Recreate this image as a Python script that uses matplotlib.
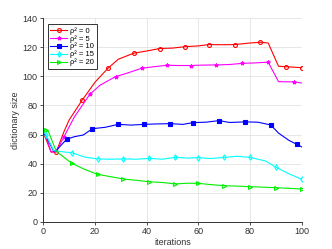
import matplotlib.pyplot as plt
import numpy as np

plt.rcParams['font.family'] = ['Liberation Sans', 'DejaVu Sans']

# rho^2 = 0
x0 = [0, 1, 3, 5, 8, 10, 15, 20, 25, 29, 35, 40, 45, 50, 55, 60, 64, 70, 74, 80, 84, 87, 91, 94, 100]
y0 = [61, 57, 48, 48, 62, 70, 83.6, 96, 105.6, 111.8, 116, 117.5, 119.2, 119.5, 120.5, 121, 121.9, 121.8, 121.9, 123, 123.5, 123, 107, 106.7, 106]
m0 = [5, 15, 25, 35, 45, 55, 64, 74, 84, 94, 100]

# rho^2 = 5
x5 = [0, 1, 3, 5, 8, 12, 18, 22, 28, 32, 38, 42, 48, 52, 57, 62, 67, 72, 77, 82, 87, 91, 97, 100]
y5 = [61, 59, 48, 48, 58.5, 72, 87.7, 94, 99.9, 102, 105.6, 106.5, 107.7, 107.5, 107.5, 107.8, 107.9, 108.2, 109, 109.3, 109.8, 96.4, 96.2, 95.5]
m5 = [8, 18, 28, 38, 48, 57, 67, 77, 87, 97]

# rho^2 = 10
x10 = [0, 1, 4, 5, 9, 12, 15.5, 19, 24, 29, 34, 39, 44, 49, 54, 58, 63, 68, 72, 78, 83, 88, 91, 95, 98, 100]
y10 = [61, 59, 48.5, 49, 56.7, 58.5, 59.7, 64, 65, 67, 66.5, 67, 67.3, 67.5, 67, 68.2, 68.5, 69.6, 68.3, 68.7, 68.5, 66.6, 61, 56, 53.3, 51.5]
m10 = [9, 19, 29, 39, 49, 58, 68, 78, 88, 98]

# rho^2 = 15
x15 = [0, 1, 4, 5, 8, 11, 16, 21, 26, 31, 36, 41, 46, 51, 56, 60, 65, 70, 75, 80, 83, 86, 90, 95, 100]
y15 = [62, 60, 49, 48.7, 48, 47.5, 44.5, 43.2, 43, 43.2, 43, 43.6, 43, 44.3, 43.8, 44.1, 43.5, 44.3, 45, 44.3, 43, 41.8, 37.5, 33, 29.2]
m15 = [1, 11, 21, 31, 41, 51, 60, 70, 80, 90, 100]

# rho^2 = 20
x20 = [0, 1, 2, 5, 11, 16, 21, 26, 31, 36, 41, 46, 51, 56, 60, 65, 70, 75, 80, 85, 90, 95, 100]
y20 = [64, 63.2, 62, 48.5, 40.2, 36, 32.6, 31, 29.4, 28.5, 27.5, 27, 26, 26.5, 26.4, 25.5, 24.8, 24.5, 24.1, 23.8, 23.4, 23, 22.5]
m20 = [1, 11, 21, 31, 41, 51, 60, 70, 80, 90, 100]

series = [
    (x0, y0, m0, '#ff0000', 'o', False, 'ρ² = 0'),
    (x5, y5, m5, '#ff00ff', '*', True, 'ρ² = 5'),
    (x10, y10, m10, '#0000ff', 's', True, 'ρ² = 10'),
    (x15, y15, m15, '#00ffff', 'd', False, 'ρ² = 15'),
    (x20, y20, m20, '#00ee00', '>', False, 'ρ² = 20'),
]

fig = plt.figure(figsize=(3.32, 2.49), dpi=100)
ax = fig.add_axes([0.1304, 0.1096, 0.7786, 0.8169])

for xs, ys, ms, c, mk, filled, lab in series:
    idx = [xs.index(m) for m in ms]
    ax.plot(xs, ys, color=c, lw=0.8, marker=mk, markevery=idx, markersize=2.8,
            markerfacecolor=c if filled else 'none', markeredgewidth=0.8, label=lab)

ax.set_xlim(0, 100)
ax.set_ylim(0, 140)
ax.set_xticks(np.arange(0, 101, 20))
ax.set_yticks(np.arange(0, 141, 20))
ax.grid(True, color='#e3e3e3', lw=0.6)
ax.set_axisbelow(True)
for s in ['top', 'right']:
    ax.spines[s].set_visible(False)
for s in ['left', 'bottom']:
    ax.spines[s].set_color('#333333')
    ax.spines[s].set_linewidth(0.7)
ax.tick_params(labelsize=6.5, colors='#333333', length=2.5, width=0.6, pad=1.5)
ax.set_xlabel('iterations', fontsize=6.5, color='#333333', labelpad=1)
ax.set_ylabel('dictionary size', fontsize=6.5, color='#333333', labelpad=2)

leg = ax.legend(loc='upper left', bbox_to_anchor=(0.017, 0.97), borderaxespad=0,
                fontsize=5.5, handlelength=2.2, handletextpad=0.4, labelspacing=0.02,
                borderpad=0.35, fancybox=False, framealpha=1)
leg.get_frame().set_edgecolor('#333333')
leg.get_frame().set_linewidth(0.7)

fig.savefig('out.png', dpi=100)
